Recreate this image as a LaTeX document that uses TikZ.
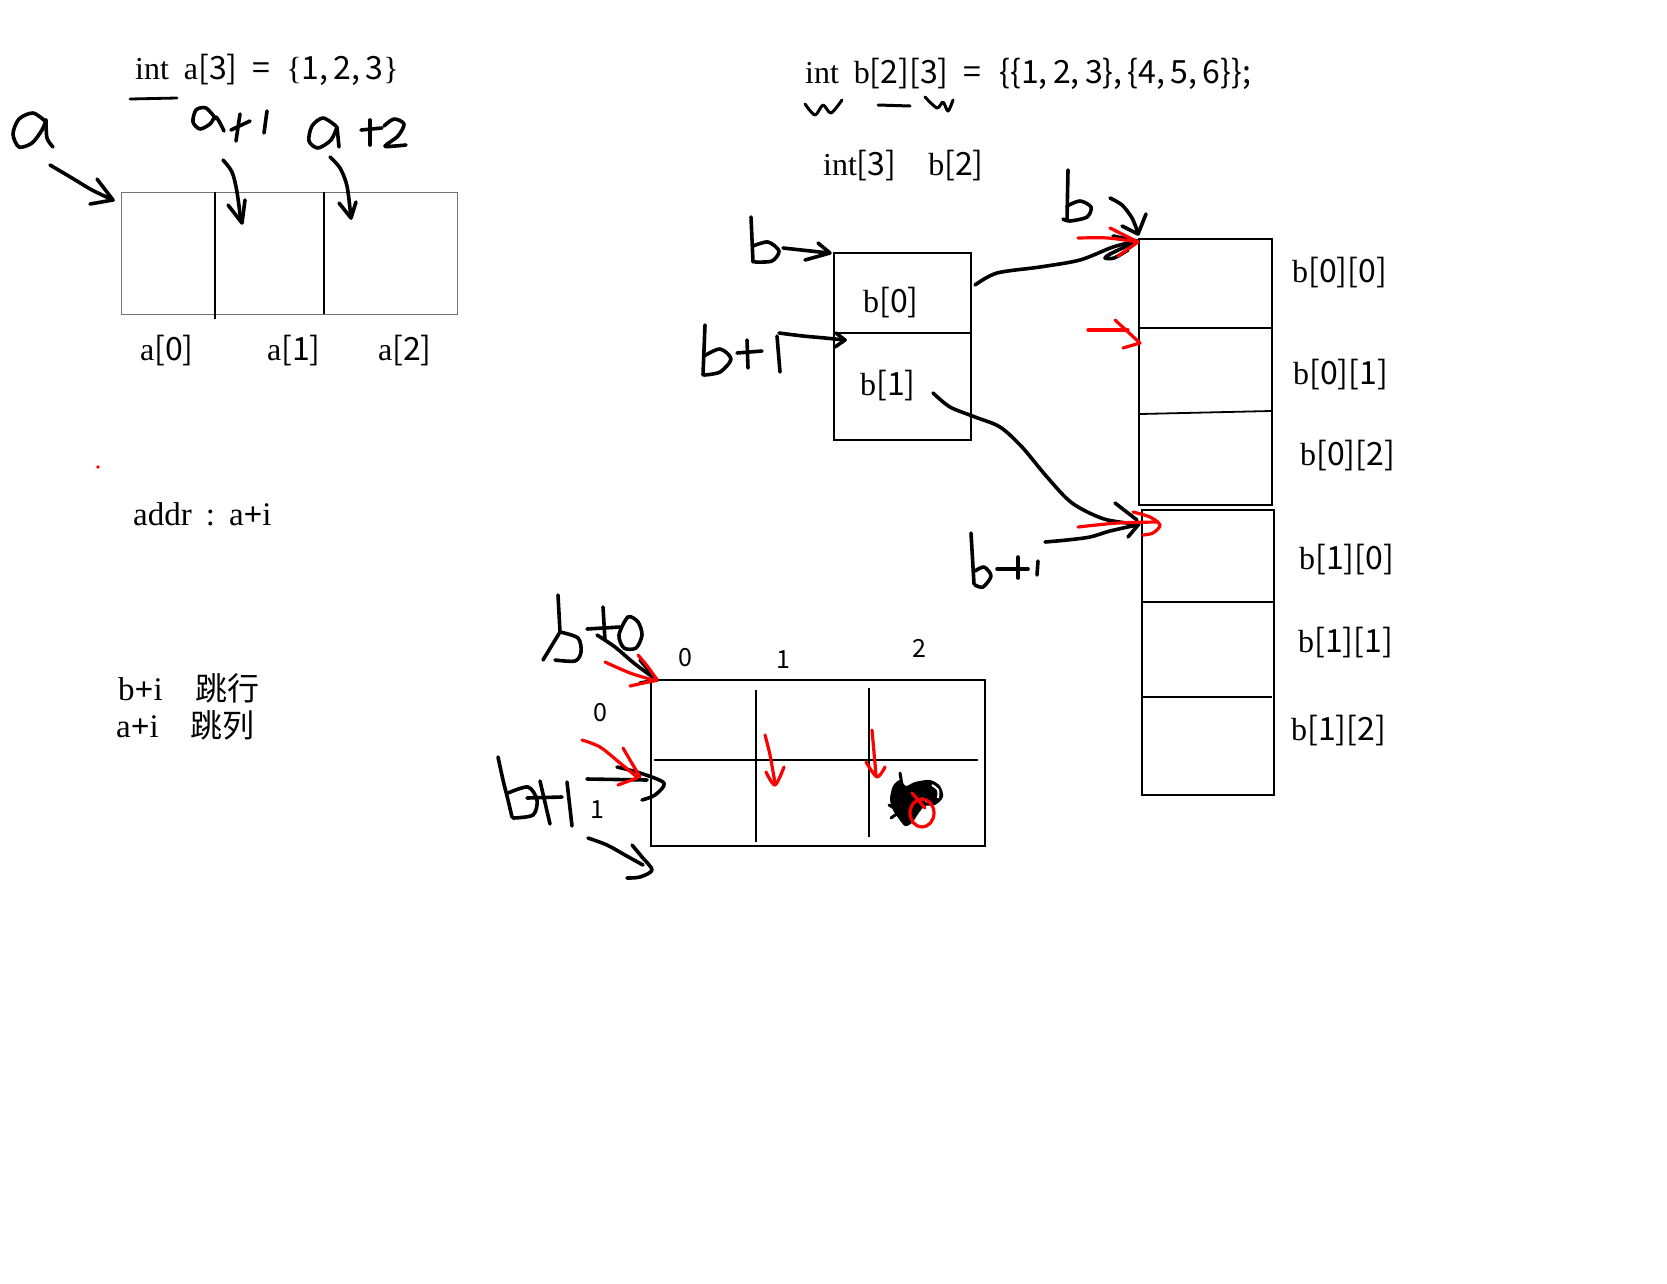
\documentclass[tikz,border=0pt]{standalone}
\usepackage{fontspec}
\setmainfont{Liberation Serif}
\newfontfamily\cjk{Noto Sans CJK SC}
\newcommand{\sn}[1]{{\cjk #1}}
\begin{document}
\begin{tikzpicture}[x=1pt,y=-1pt,
  hand/.style={line width=3.6pt, line cap=round, line join=round},
  redhand/.style={hand, draw=red, line width=3.2pt},
  lbl/.style={font=\fontsize{32}{36}\selectfont, inner sep=0pt},
  idx/.style={font=\cjk\fontsize{25}{28}\selectfont, inner sep=0pt},
  graybox/.style={draw=black!55, line width=1.4pt, inner sep=0pt, anchor=north west},
  blackbox/.style={draw=black, line width=2pt, inner sep=0pt, anchor=north west},
  divline/.style={line width=1.8pt},
]
\useasboundingbox (0,0) rectangle (1667,1283);
\fill[white] (0,0) rectangle (1667,1283);

% ---------------- 1D array ----------------
\node[lbl, anchor=base west] (codeA) at (135,79) {int\hspace{15pt}a\sn{[3]}\hspace{15pt}\sn{=}\hspace{16pt}\{\sn{1,\,2,\,3}\}};
\draw[hand, line width=2.8pt] (130,99) -- (177,98);

\node[graybox, minimum width=336pt, minimum height=122pt] (arr) at (121,192) {};
\draw[divline] (215,192) -- (215,319);
\draw[divline] (324,192) -- (324,314);
\node[lbl, anchor=base west] (a0) at (140,360) {a\sn{[0]}};
\node[lbl, anchor=base west] (a1) at (267,360) {a\sn{[1]}};
\node[lbl, anchor=base west] (a2) at (378,360) {a\sn{[2]}};

% handwritten a
\draw[hand] plot[smooth] coordinates {(45,121) (33,113) (19,119) (13,134) (19,147) (32,143) (42,130) (46,120)};
\draw[hand] plot[smooth] coordinates {(46,120) (47,138) (53,147)};
\coordinate (aS) at (50,165);
\draw[hand] plot[smooth] coordinates {(aS) (72,178) (92,190) (113,200)};
\draw[hand] (97,179) -- (113,200) -- (90,204);

% handwritten a+1
\draw[hand] plot[smooth] coordinates {(216,119) (206,108) (196,110) (193,122) (200,129) (210,124) (216,117) (224,131)};
\draw[hand] (240,114) -- (236,141);
\draw[hand] (231,130) -- (250,121);
\draw[hand] (267,111) -- (264,133);
\draw[hand] plot[smooth] coordinates {(223,160) (232,172) (237,192) (241,222)};
\draw[hand] (228,205) -- (242,223) -- (245,200);

% handwritten a+2
\draw[hand] plot[smooth] coordinates {(336,126) (323,118) (312,126) (309,141) (318,148) (331,140) (337,127)};
\draw[hand] (337,127) -- (339,147);
\draw[hand] (370,120) -- (370,145);
\draw[hand] (361,130) -- (382,128);
\draw[hand] plot[smooth] coordinates {(384,126) (394,119) (404,124) (398,136) (385,146) (395,146) (406,145)};
\draw[hand] plot[smooth] coordinates {(330,157) (340,168) (347,186) (351,218)};
\draw[hand] (339,203) -- (351,218) -- (356,202);

\fill[red] (98,467) circle (1.8);

\node[lbl, font=\fontsize{33}{36}\selectfont, anchor=base west] (addr) at (133,525) {addr\hspace{14pt}:\hspace{14pt}a\textbf{+}i};
\node[lbl, font=\fontsize{33}{36}\selectfont, anchor=base west] (bi) at (118,700) {b\textbf{+}i\hspace{33pt}{\cjk\fontsize{32}{34}\selectfont 跳行}};
\node[lbl, font=\fontsize{33}{36}\selectfont, anchor=base west] (ai) at (116,737) {a\textbf{+}i\hspace{32pt}{\cjk\fontsize{32}{34}\selectfont 跳列}};

% ---------------- 2D array ----------------
\node[lbl, anchor=base west] (codeB) at (805,83) {int\hspace{15pt}b\sn{[2][3]}\hspace{15pt}\sn{=}\hspace{18pt}\sn{\{\{1,\,2,\,3\},\,\{4,\,5,\,6\}\};}};
\draw[hand, line width=3pt] plot[smooth] coordinates {(805,104) (815,115) (823,105) (831,113) (842,100)};
\draw[hand, line width=3pt] (878,105) -- (910,106);
\draw[hand, line width=3pt] plot[smooth] coordinates {(925,97) (937,108) (943,102) (948,111) (953,100)};

\node[lbl, anchor=base west] (typ) at (823,175) {int\sn{[3]}\hspace{32pt}b\sn{[2]}};

\node[blackbox, minimum width=137pt, minimum height=187pt] (bptr) at (833,252) {};
\draw[divline] (833,333) -- (970,333);
\node[lbl, anchor=base west] (b0) at (863,312) {b\sn{[0]}};
\node[lbl, anchor=base west] (b1) at (860,395) {b\sn{[1]}};

\node[blackbox, minimum width=133pt, minimum height=266pt] (blk0) at (1138,238) {};
\draw[divline] (1140,328) -- (1271,328);
\draw[divline] (1140,414) -- (1271,411);
\node[blackbox, minimum width=132pt, minimum height=285pt] (blk1) at (1141,509) {};
\draw[divline] (1141,602) -- (1273,602);
\draw[divline] (1141,697) -- (1272,697);

\node[lbl, anchor=base west] (l00) at (1292,282) {b\sn{[0][0]}};
\node[lbl, anchor=base west] (l01) at (1293,384) {b\sn{[0][1]}};
\node[lbl, anchor=base west] (l02) at (1300,465) {b\sn{[0][2]}};
\node[lbl, anchor=base west] (l10) at (1299,569) {b\sn{[1][0]}};
\node[lbl, anchor=base west] (l11) at (1298,652) {b\sn{[1][1]}};
\node[lbl, anchor=base west] (l12) at (1291,740) {b\sn{[1][2]}};

% left b and b+1
\draw[hand] (751,217) -- (753,262);
\draw[hand] plot[smooth] coordinates {(753,246) (768,242) (779,251) (772,261) (755,262)};
\draw[hand] (783,248) -- (829,253);
\draw[hand] (818,243) -- (830,253) -- (805,260);

\draw[hand] (705,325) -- (703,375);
\draw[hand] plot[smooth] coordinates {(704,356) (720,349) (731,359) (720,372) (704,375)};
\draw[hand] (747,340) -- (748,368);
\draw[hand] (737,353) -- (762,351);
\draw[hand] (777,336) -- (780,372);
\draw[hand] plot[smooth] coordinates {(779,333) (803,336) (825,338) (845,340)};
\draw[hand] (836,333) -- (845,340) -- (835,347);

% b above right column
\draw[hand] (1068,170) -- (1067,220);
\draw[hand] plot[smooth] coordinates {(1067,206) (1080,201) (1091,207) (1087,217) (1070,221) (1063,219)};
\draw[hand] plot[smooth] coordinates {(1110,198) (1122,205) (1132,218) (1138,233)};
\draw[hand] (1122,226) -- (1138,234) -- (1146,214);

% b[0] -> blk0
\draw[hand] plot[smooth] coordinates {(975,285) (997,273) (1040,267) (1080,260) (1113,247) (1137,241)};
\draw[hand] (1113,236) -- (1137,241) -- (1110,254);
\draw[hand] plot[smooth] coordinates {(1110,254) (1105,258) (1114,258) (1128,250)};
\draw[redhand] plot[smooth] coordinates {(1078,238) (1108,238) (1138,242)};
\draw[redhand] (1110,228) -- (1138,242) -- (1118,256);
\draw[redhand] (1088,330) -- (1128,330);
\draw[redhand] (1115,320) -- (1140,343) -- (1123,348);

% b[1] -> blk1
\draw[hand] plot[smooth] coordinates {(933,393) (950,407) (975,417) (1000,427) (1022,447) (1047,477) (1072,503) (1104,519) (1137,524)};
\draw[hand] (1115,503) -- (1137,520);
\draw[hand] (1128,537) -- (1139,524);
% b+1 lower
\draw[hand] (971,533) -- (974,584);
\draw[hand] plot[smooth] coordinates {(975,571) (984,567) (991,576) (983,587) (975,585)};
\draw[hand] (997,569) -- (1028,569);
\draw[hand] (1018,557) -- (1018,578);
\draw[hand] (1038,561) -- (1037,575);
\draw[hand] plot[smooth] coordinates {(1045,542) (1067,540) (1090,537) (1110,531) (1137,525)};
\draw[redhand] plot[smooth] coordinates {(1078,527) (1118,523) (1158,522)};
\draw[redhand] plot[smooth] coordinates {(1133,512) (1150,517) (1160,525) (1153,533) (1143,535)};

% ---------------- grid ----------------
\node[blackbox, line width=2.4pt, minimum width=334pt, minimum height=166pt] (grid) at (650,679) {};
\draw[divline] (654,760) -- (978,760);
\draw[divline] (756,690) -- (756,842);
\draw[divline] (869,688) -- (869,837);
\node[idx] (c0) at (685,658) {0};
\node[idx] (c1) at (783,660) {1};
\node[idx] (c2) at (919,648) {2};
\node[idx] (r0) at (600,713) {0};
\node[idx] (r1) at (597,810) {1};

% b+0
\draw[hand] (558,595) -- (560,632);
\draw[hand] (560,632) -- (543,660);
\draw[hand] plot[smooth] coordinates {(560,632) (578,638) (581,652) (575,661) (555,660)};
\draw[hand] (587,629) -- (620,627);
\draw[hand] (603,607) -- (605,640);
\draw[hand] plot[smooth cycle] coordinates {(628,617) (638,622) (642,635) (636,648) (624,648) (619,635)};
\draw[hand] plot[smooth] coordinates {(597,635) (615,647) (635,664) (657,680)};
\draw[hand] (640,660) -- (657,680) -- (640,683);
\draw[redhand] plot[smooth] coordinates {(605,662) (630,673) (653,680)};
\draw[redhand] plot[smooth] coordinates {(638,655) (648,667) (657,680)};
\draw[redhand] (630,686) -- (657,680);

% b+1 (grid)
\draw[hand] plot[smooth] coordinates {(498,757) (503,780) (508,800) (512,817)};
\draw[hand] plot[smooth] coordinates {(508,793) (528,787) (537,800) (533,815) (513,818)};
\draw[hand] (540,781) -- (550,824);
\draw[hand] (527,798) -- (562,797);
\draw[hand] (567,782) -- (572,826);
\draw[hand] (587,779) -- (647,780);
\draw[hand] plot[smooth] coordinates {(617,767) (640,773) (664,783) (655,795) (642,800)};
\draw[redhand] plot[smooth] coordinates {(582,740) (600,747) (620,763) (637,777)};
\draw[redhand] plot[smooth] coordinates {(623,748) (630,760) (640,777)};
\draw[redhand] (618,785) -- (637,778);
\draw[hand] plot[smooth] coordinates {(588,838) (607,845) (625,855) (643,865)};
\draw[hand] plot[smooth] coordinates {(632,845) (642,857) (652,870) (640,877) (627,878)};

% red arrows in grid
\draw[redhand] plot[smooth] coordinates {(765,735) (770,755) (775,783)};
\draw[redhand] plot[smooth] coordinates {(766,772) (775,785) (784,767)};
\draw[redhand] (872,730) -- (876,775);
\draw[redhand] plot[smooth] coordinates {(866,762) (877,777) (885,767)};

% scribble
\fill[black] plot[smooth cycle] coordinates {(893,786) (900,780) (906,786) (915,782) (930,780) (940,786) (943,797) (935,805) (925,806) (918,814) (912,823) (905,826) (899,819) (893,810) (890,799)};
\draw[hand, line width=3pt] (900,773) -- (902,785);
\draw[hand, line width=3pt] (889,805) -- (896,809);
\draw[hand, line width=3pt] (891,818) -- (898,813);
\draw[white, line width=2pt] plot[smooth] coordinates {(932,785) (938,790) (938,798)};
\draw[white, line width=1.5pt] (922,798) -- (927,802);
\draw[redhand] (922,813) ellipse (12pt and 14pt);
\draw[redhand] (912,793) -- (925,808);
\end{tikzpicture}
\end{document}
